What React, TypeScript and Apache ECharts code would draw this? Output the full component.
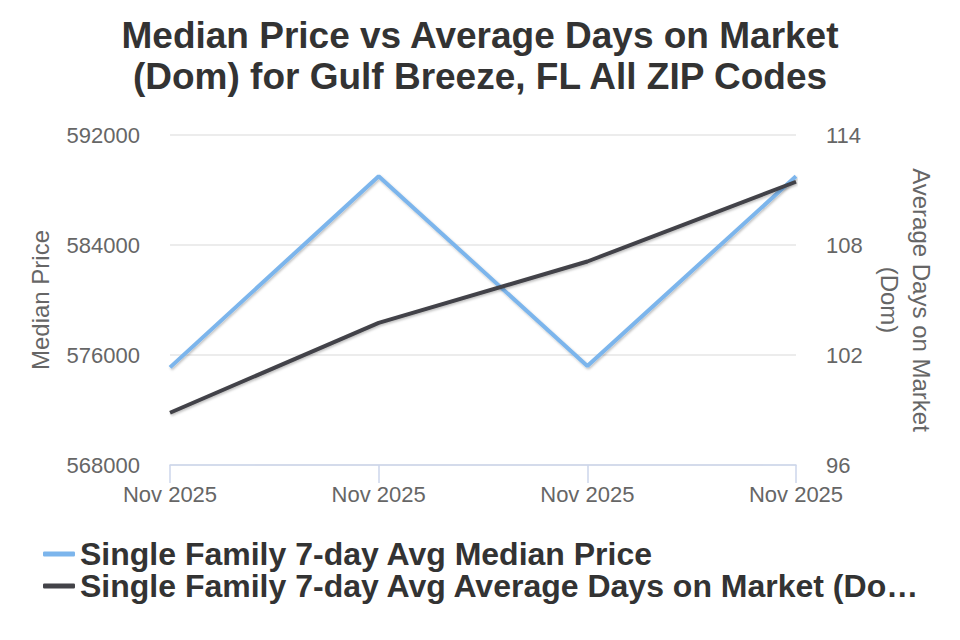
import React, { useEffect, useRef } from "react";
import * as echarts from "echarts";

const categories = ["Nov 2025", "Nov 2025", "Nov 2025", "Nov 2025"];
const medianPrice = [575100, 589000, 575200, 589000];
const daysOnMarket = [98.85, 103.75, 107.1, 111.45];
const priceTicks = { min: 568000, max: 592000, interval: 8000 };
const domTicks = { min: 96, max: 114, interval: 6 };

const FONT = '"Liberation Sans", Arial, sans-serif';
const LEGEND_MAX_CHARS = 50;
const shadow = {
  shadowColor: "rgba(0,0,0,0.25)",
  shadowBlur: 2,
  shadowOffsetX: 1,
  shadowOffsetY: 1.5,
};

export default function App() {
  const ref = useRef<HTMLDivElement>(null);

  useEffect(() => {
    if (!ref.current) return;
    const chart = echarts.init(ref.current, null, { renderer: "svg" });
    chart.setOption({
      animation: false,
      textStyle: { fontFamily: FONT },
      title: {
        text: "Median Price vs Average Days on Market\n(Dom) for Gulf Breeze, FL All ZIP Codes",
        left: "center",
        top: 10,
        textStyle: {
          fontFamily: FONT,
          fontSize: 37,
          fontWeight: "bold",
          color: "#333333",
          lineHeight: 41,
        },
      },
      grid: { left: 170, right: 164, top: 135, bottom: 175 },
      legend: {
        orient: "vertical",
        left: 38,
        top: 533,
        itemWidth: 32,
        itemHeight: 5,
        itemGap: 0,
        icon: "roundRect",
        formatter: (name: string) =>
          name.length > LEGEND_MAX_CHARS ? name.slice(0, LEGEND_MAX_CHARS) + "…" : name,
        textStyle: {
          fontFamily: FONT,
          fontSize: 32,
          fontWeight: "bold",
          color: "#333333",
          lineHeight: 31,
        },
      },
      xAxis: {
        type: "category",
        data: categories,
        boundaryGap: false,
        axisLine: { lineStyle: { color: "#ccd6eb", width: 1.5 } },
        axisTick: { show: true, length: 18, lineStyle: { color: "#ccd6eb", width: 1.5 } },
        axisLabel: { color: "#666666", fontSize: 22, margin: 18, interval: 0 },
        splitLine: { show: false },
      },
      yAxis: [
        {
          type: "value",
          position: "left",
          ...priceTicks,
          name: "Median Price",
          nameLocation: "middle",
          nameGap: 118,
          nameTextStyle: { color: "#666666", fontSize: 24 },
          axisLine: { show: false },
          axisTick: { show: false },
          axisLabel: { color: "#666666", fontSize: 22, margin: 30, formatter: (v: number) => String(v) },
          splitLine: { lineStyle: { color: "#e6e6e6", width: 1.5 } },
        },
        {
          type: "value",
          position: "right",
          ...domTicks,
          name: "Average Days on Market\n(Dom)",
          nameLocation: "middle",
          nameRotate: -90,
          nameGap: 69,
          nameTextStyle: { color: "#666666", fontSize: 24, lineHeight: 32 },
          axisLine: { show: false },
          axisTick: { show: false },
          axisLabel: { color: "#666666", fontSize: 22, margin: 30 },
          splitLine: { show: false },
        },
      ],
      series: [
        {
          name: "Single Family 7-day Avg Median Price",
          type: "line",
          yAxisIndex: 0,
          data: medianPrice,
          showSymbol: false,
          symbol: "none",
          color: "#7cb5ec",
          lineStyle: { width: 4, color: "#7cb5ec", ...shadow },
        },
        {
          name: "Single Family 7-day Avg Average Days on Market (Dom)",
          type: "line",
          yAxisIndex: 1,
          data: daysOnMarket,
          showSymbol: false,
          symbol: "none",
          color: "#434348",
          lineStyle: { width: 4, color: "#434348", ...shadow },
        },
      ],
    });
    return () => chart.dispose();
  }, []);

  return <div ref={ref} style={{ width: 960, height: 640, margin: -8 }} />;
}
